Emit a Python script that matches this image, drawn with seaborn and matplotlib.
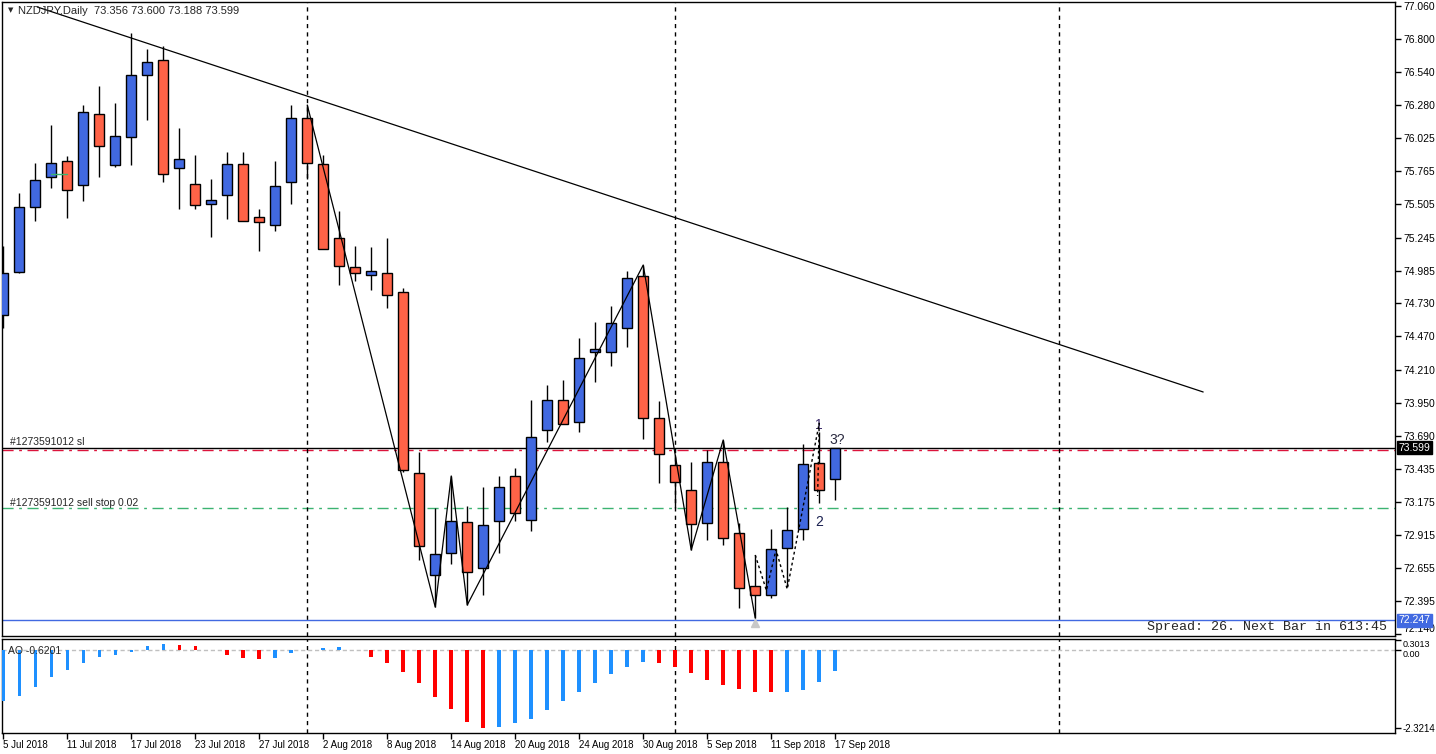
import matplotlib
matplotlib.use('Agg')
import matplotlib.pyplot as plt
import seaborn as sns
import numpy as np

# NZDJPY daily candles, 5 Jul 2018 .. 17 Sep 2018
opens = [74.638, 74.975, 75.485, 75.720, 75.845, 75.657, 76.214, 75.814, 76.033, 76.519,
         76.637, 75.790, 75.665, 75.508, 75.579, 75.822, 75.406, 75.344, 75.681, 76.182,
         75.822, 75.242, 75.015, 74.952, 74.968, 74.819, 73.400, 72.601, 72.773, 73.016,
         72.656, 73.024, 73.377, 73.032, 73.737, 73.972, 73.800, 74.348, 74.348, 74.536,
         74.944, 73.831, 73.463, 73.267, 73.008, 73.486, 72.930, 72.515, 72.444, 72.812,
         72.961, 73.478, 73.356]
highs = [75.179, 75.594, 75.830, 76.127, 75.884, 76.284, 76.433, 76.300, 76.848, 76.723,
         76.747, 76.104, 75.892, 75.704, 75.916, 75.916, 75.469, 75.845, 76.284, 76.284,
         75.892, 75.453, 75.179, 75.171, 75.242, 74.850, 73.565, 73.126, 73.377, 73.141,
         73.290, 73.377, 73.439, 73.972, 74.090, 74.129, 74.458, 74.583, 74.709, 74.983,
         75.030, 73.964, 73.541, 73.486, 73.580, 73.659, 73.008, 72.758, 72.961, 73.134,
         73.627, 73.721, 73.600]
lows = [74.536, 74.968, 75.375, 75.634, 75.399, 75.532, 75.720, 75.800, 75.814, 76.167,
        75.681, 75.469, 75.469, 75.250, 75.391, 75.375, 75.140, 75.297, 75.508, 75.704,
        75.156, 74.873, 74.905, 74.834, 74.693, 73.410, 72.718, 72.350, 72.687, 72.366,
        72.444, 72.773, 73.024, 72.946, 73.643, 73.784, 73.721, 74.113, 74.239, 74.388,
        73.667, 73.322, 73.126, 72.797, 72.875, 72.836, 72.342, 72.264, 72.421, 72.515,
        72.875, 73.165, 73.188]
closes = [74.968, 75.485, 75.696, 75.830, 75.618, 76.229, 75.963, 76.041, 76.519, 76.621,
          75.743, 75.861, 75.500, 75.540, 75.822, 75.375, 75.367, 75.649, 76.182, 75.830,
          75.156, 75.022, 74.968, 74.983, 74.795, 73.424, 72.828, 72.765, 73.024, 72.624,
          72.993, 73.290, 73.087, 73.682, 73.972, 73.784, 74.301, 74.372, 74.576, 74.928,
          73.831, 73.549, 73.330, 73.000, 73.486, 72.891, 72.499, 72.444, 72.804, 72.953,
          73.471, 73.267, 73.599]

# Awesome Oscillator values
ao = [-1.51, -1.36, -1.10, -0.80, -0.59, -0.38, -0.20, -0.14, -0.05, 0.13,
      0.19, 0.16, 0.13, 0.01, -0.14, -0.23, -0.26, -0.23, -0.08, 0.02,
      0.07, 0.10, 0.01, -0.20, -0.38, -0.65, -0.98, -1.39, -1.75, -2.14,
      -2.3214, -2.29, -2.17, -2.05, -1.78, -1.51, -1.24, -0.98, -0.71, -0.50,
      -0.35, -0.38, -0.50, -0.68, -0.89, -1.04, -1.16, -1.24, -1.25, -1.24,
      -1.18, -0.95, -0.6201]

date_labels = ['5 Jul 2018', '11 Jul 2018', '17 Jul 2018', '23 Jul 2018', '27 Jul 2018',
               '2 Aug 2018', '8 Aug 2018', '14 Aug 2018', '20 Aug 2018', '24 Aug 2018',
               '30 Aug 2018', '5 Sep 2018', '11 Sep 2018', '17 Sep 2018']
date_ticks = list(range(0, 53, 4))
price_ticks = [77.060, 76.800, 76.540, 76.280, 76.025, 75.765, 75.505, 75.245, 74.985,
               74.730, 74.470, 74.210, 73.950, 73.690, 73.435, 73.175, 72.915, 72.655,
               72.395, 72.140]
separators = [19, 42, 66]

# drawn objects
trend_x = [2.125, 75.0]
trend_y = [77.052, 74.035]
zig_x = [19, 27, 28, 29, 40, 43, 45, 47]
zig_y = [76.284, 72.350, 73.377, 72.366, 75.030, 72.797, 73.659, 72.264]
dot_x = [47, 47.7, 48.3, 49, 51, 50.9]
dot_y = [72.758, 72.48, 72.80, 72.49, 73.79, 73.22]
bid = 73.599
sl_level = 73.577
stop_level = 73.125
low_line = 72.247

sns.set_theme(style='white')
plt.rcParams['font.family'] = ['Liberation Sans', 'DejaVu Sans']

fig = plt.figure(figsize=(14.36, 7.54), dpi=100)
ax = fig.add_axes([0.00139, 0.15650, 0.97006, 0.84085])
ax2 = fig.add_axes([0.00139, 0.02785, 0.97006, 0.12467])

bull = '#4169E1'
bear = '#FF6347'
idx = np.arange(len(opens))
o = np.array(opens); c = np.array(closes)
cols = [bull if cc >= oo else bear for oo, cc in zip(o, c)]

# candles
ax.vlines(idx, lows, highs, color='black', lw=1, zorder=2)
ax.bar(idx, np.maximum(np.abs(c - o), 0.012), bottom=np.minimum(o, c), width=0.62,
       color=cols, edgecolor='black', linewidth=1, zorder=3)

# levels
ax.axhline(bid, color='black', lw=1, zorder=1)
ax.axhline(sl_level, color='#DC143C', lw=1, dashes=(8, 4, 2, 4), zorder=1)
ax.axhline(stop_level, color='#3CB371', lw=1, dashes=(8, 4, 2, 4), zorder=1)
ax.axhline(low_line, color='#4169E1', lw=1, zorder=1)
ax.plot([3, 4], [75.743, 75.743], color='#3CB371', lw=1, zorder=4)

# trend line and waves
sns.lineplot(x=trend_x, y=trend_y, ax=ax, color='black', lw=0.9, sort=False, estimator=None)
sns.lineplot(x=zig_x, y=zig_y, ax=ax, color='black', lw=0.9, sort=False, estimator=None, zorder=4)
ax.plot(dot_x, dot_y, color='black', lw=1, ls=(0, (2, 2)), zorder=4)
ax.plot([47], [72.222], marker='^', color='#c8c8c8', ms=6, zorder=4)
ax.text(50.95, 73.78, '1', color='#3a2a6a', fontsize=10, ha='center', va='center')
ax.text(51, 73.02, '2', color='#1a2050', fontsize=10, ha='center', va='center')
ax.text(52.1, 73.66, '3?', color='#2a2a40', fontsize=10, ha='center', va='center')

for s in separators:
    ax.axvline(s, color='black', lw=1, ls=(0, (3, 3)), zorder=1)
    ax2.axvline(s, color='black', lw=1, ls=(0, (3, 3)), zorder=1)

ax.set_xlim(-0.08, 86.99)
ax.set_ylim(72.123, 77.091)
ax.yaxis.tick_right()
ax.set_yticks(price_ticks)
ax.set_yticklabels([f'{p:.3f}' for p in price_ticks])
ax.tick_params(axis='y', direction='out', length=4, width=1, labelsize=7.5, pad=2,
               colors='black', right=True)
ax.get_yticklabels()[-1].set_va('bottom')
ax.set_xticks([])
for sp in ax.spines.values():
    sp.set_color('black'); sp.set_linewidth(1)

ytr = ax.get_yaxis_transform()
ax.text(0.0057, bid + 0.004, '#1273591012 sl', transform=ytr, fontsize=7.5, va='bottom')
ax.text(0.0057, stop_level + 0.004, '#1273591012 sell stop 0.02', transform=ytr,
        fontsize=7.5, va='bottom')
ax.text(1.0022, bid, f'{bid:.3f}', transform=ytr, fontsize=7.5, color='white', va='center',
        bbox=dict(boxstyle='square,pad=0.15', fc='black', ec='black'))
ax.text(1.0022, low_line, f'{low_line:.3f}', transform=ytr, fontsize=7.5, color='white',
        va='center', bbox=dict(boxstyle='square,pad=0.15', fc='#4169E1', ec='#4169E1'))
ax.text(0.0115, 0.994, 'NZDJPY,Daily  73.356 73.600 73.188 73.599', transform=ax.transAxes,
        fontsize=8, va='top')
ax.text(0.0045, 0.992, '\u25BC', transform=ax.transAxes, fontsize=5, va='top',
        family='DejaVu Sans')
ax.text(0.9943, 0.014, 'Spread: 26. Next Bar in 613:45', transform=ax.transAxes,
        family='Liberation Mono', fontsize=9.6, ha='right', va='center')

# AO histogram
aov = np.array(ao)
ao_cols = ['#1E90FF' if i == 0 or aov[i] > aov[i - 1] else '#FF0000' for i in range(len(aov))]
ax2.bar(idx, aov, width=0.22, color=ao_cols, linewidth=0, zorder=3)
ax2.axhline(0, color='#c0c0c0', lw=1, ls=(0, (3, 2)), zorder=1)
ax2.set_xlim(-0.08, 86.99)
ax2.set_ylim(-2.469, 0.337)
ax2.yaxis.tick_right()
ax2.set_yticks([0.3013, 0.0, -2.3214])
ax2.set_yticklabels(['0.3013', '0.00', '-2.3214'])
ax2.tick_params(axis='y', direction='out', length=4, width=1, labelsize=7, pad=1.5,
                colors='black', right=True)
ylabs = ax2.get_yticklabels()
ylabs[0].set_va('top')
ylabs[0].set_fontsize(6.5)
ylabs[1].set_va('top')
ylabs[1].set_fontsize(6.5)
ax2.set_xticks(date_ticks)
ax2.set_xticklabels(date_labels)
ax2.tick_params(axis='x', direction='out', length=4, width=1, labelsize=7, pad=1,
                colors='black', bottom=True)
for lab in ax2.get_xticklabels():
    lab.set_ha('left')
for sp in ax2.spines.values():
    sp.set_color('black'); sp.set_linewidth(1)
ax2.text(0.004, 0.93, 'AO -0.6201', transform=ax2.transAxes, fontsize=7.5, va='top')

fig.savefig('out.png', dpi=100, facecolor='white')
